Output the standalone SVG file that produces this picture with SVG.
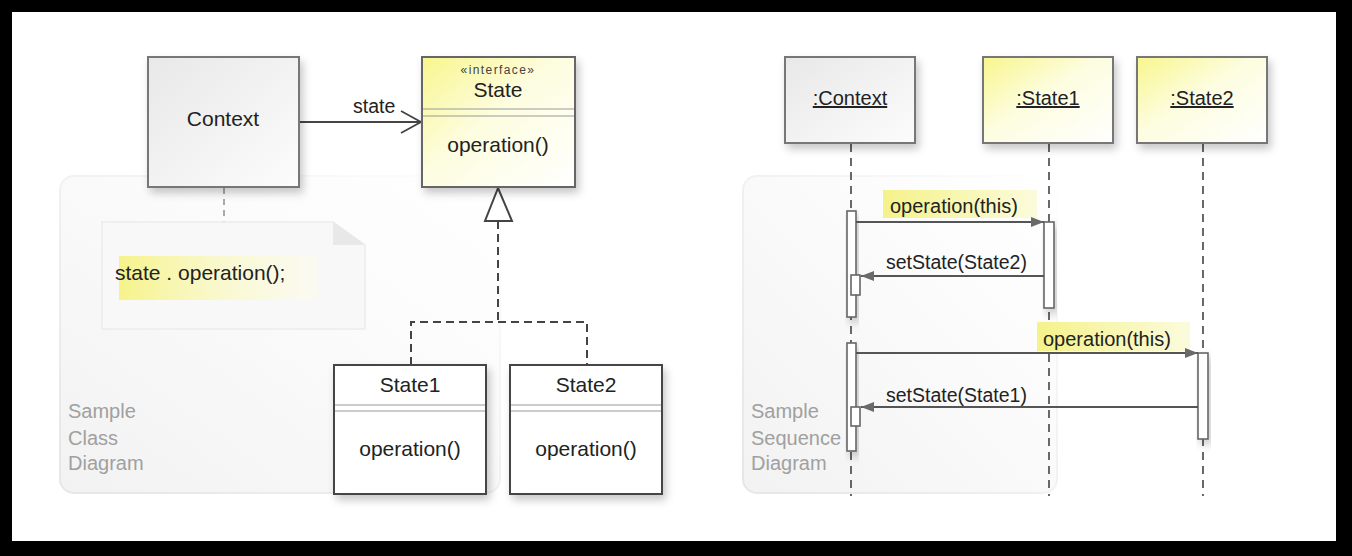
<svg xmlns="http://www.w3.org/2000/svg" width="1352" height="556" viewBox="0 0 1352 556">
<defs>
<style>
text{font-family:"Liberation Sans",Arial,sans-serif;fill:#222}
.box{font-size:21px}
.msg{font-size:20px}
.cap{font-size:20px;fill:#a0a0a0}
.sep{stroke:#999;stroke-width:1;fill:none}
.dash{stroke:#444;stroke-width:2;stroke-dasharray:8 5;fill:none}
.life{stroke:#444;stroke-width:1.6;stroke-dasharray:8 6;fill:none}
.act{fill:#fff;stroke:#666;stroke-width:1.6}
.mline{stroke:#555;stroke-width:1.8;fill:none}
.panel{fill:url(#gPanel);stroke:url(#gPanelStroke);stroke-width:2}
</style>
<linearGradient id="gGrey" x1="0" y1="0" x2="1" y2="1">
<stop offset="0" stop-color="#e8e8e8"/><stop offset="1" stop-color="#fcfcfc"/>
</linearGradient>
<linearGradient id="gYellow" x1="0" y1="0" x2="1" y2="1">
<stop offset="0" stop-color="#f8f68c"/><stop offset="0.45" stop-color="#fdfde0"/><stop offset="1" stop-color="#ffffff"/>
</linearGradient>
<linearGradient id="gHi" x1="0" y1="0" x2="1" y2="0">
<stop offset="0" stop-color="#f6f38a"/><stop offset="1" stop-color="#fdfde8" stop-opacity="0.4"/>
</linearGradient>
<linearGradient id="gHi2" x1="0" y1="0" x2="1" y2="0">
<stop offset="0" stop-color="#f5f28a"/><stop offset="1" stop-color="#fbfbdc"/>
</linearGradient>
<linearGradient id="gPanel" x1="0" y1="1" x2="1" y2="0">
<stop offset="0" stop-color="#f2f2f2"/><stop offset="0.6" stop-color="#fbfbfb"/><stop offset="1" stop-color="#ffffff"/>
</linearGradient>
<linearGradient id="gPanelStroke" x1="0" y1="1" x2="1" y2="0">
<stop offset="0" stop-color="#e6e6e6"/><stop offset="0.6" stop-color="#f3f3f3"/><stop offset="1" stop-color="#ffffff"/>
</linearGradient>
<filter id="sh" x="-20%" y="-20%" width="150%" height="150%">
<feDropShadow dx="3" dy="5" stdDeviation="4" flood-color="#000" flood-opacity="0.22"/>
</filter>
<marker id="filled" markerWidth="14" markerHeight="12" refX="13" refY="6" orient="auto" markerUnits="userSpaceOnUse">
<path d="M0,1 L13,6 L0,11 Z" fill="#6a6a6a"/>
</marker>
</defs>

<rect x="0" y="0" width="1352" height="556" fill="#000"/>
<rect x="12" y="12" width="1324" height="529" fill="#fff"/>

<!-- background panels -->
<g id="panel-class">
<rect class="panel" x="60" y="176" width="440" height="317" rx="14"/>
<text class="cap" x="68" y="418">Sample</text>
<text class="cap" x="68" y="445">Class</text>
<text class="cap" x="68" y="470">Diagram</text>
</g>
<g id="panel-seq">
<rect class="panel" x="743" y="176" width="314" height="317" rx="14"/>
<text class="cap" x="751" y="418">Sample</text>
<text class="cap" x="751" y="445">Sequence</text>
<text class="cap" x="751" y="470">Diagram</text>
</g>

<!-- connectors -->
<g id="connectors">
<line x1="224" y1="188" x2="224" y2="222" stroke="#aaa" stroke-width="2" stroke-dasharray="6 5"/>
<line x1="299" y1="122" x2="421" y2="122" stroke="#444" stroke-width="2"/>
<path d="M401,111 L421,122 L401,133" fill="none" stroke="#444" stroke-width="1.8"/>
<text class="msg" x="353" y="113" style="font-size:19.5px">state</text>
<path class="dash" d="M498,221 V322"/>
<path class="dash" d="M411,365 V322 H587 V365"/>
<path d="M498,188 L485,221 L512,221 Z" fill="#fff" stroke="#444" stroke-width="2"/>
<line class="life" x1="851" y1="144" x2="851" y2="496"/>
<line class="life" x1="1049" y1="144" x2="1049" y2="496"/>
<line class="life" x1="1203" y1="144" x2="1203" y2="496"/>
</g>

<!-- note -->
<g id="note">
<path d="M102,222 H333 L365,245 V329 H102 Z" fill="#f8f8f8" stroke="#ececec" stroke-width="1.5"/>
<path d="M333,222 V245 H365 Z" fill="#e8e8e8"/>
<rect x="119" y="256" width="198" height="44" fill="url(#gHi)"/>
<text class="box" x="115" y="280">state . operation();</text>
</g>

<!-- class nodes -->
<g id="Context">
<rect x="148" y="57" width="151" height="130" fill="url(#gGrey)" stroke="#777" stroke-width="2" filter="url(#sh)"/>
<text class="box" x="223" y="126" text-anchor="middle">Context</text>
</g>
<g id="State">
<rect x="422" y="57" width="153" height="130" fill="url(#gYellow)" stroke="#666" stroke-width="2" filter="url(#sh)"/>
<text x="498" y="74" text-anchor="middle" style="font-size:12px;letter-spacing:1.4px;fill:#444">«interface»</text>
<text class="box" x="498" y="97" text-anchor="middle">State</text>
<line class="sep" x1="423" y1="109" x2="574" y2="109"/>
<line class="sep" x1="423" y1="116" x2="574" y2="116"/>
<text class="box" x="498" y="152" text-anchor="middle">operation()</text>
</g>
<g id="State1">
<rect x="334" y="365" width="152" height="129" fill="#fff" stroke="#444" stroke-width="2" filter="url(#sh)"/>
<text class="box" x="410" y="392" text-anchor="middle">State1</text>
<line class="sep" x1="335" y1="405" x2="485" y2="405"/>
<line class="sep" x1="335" y1="411" x2="485" y2="411"/>
<text class="box" x="410" y="456" text-anchor="middle">operation()</text>
</g>
<g id="State2">
<rect x="510" y="365" width="152" height="129" fill="#fff" stroke="#444" stroke-width="2" filter="url(#sh)"/>
<text class="box" x="586" y="392" text-anchor="middle">State2</text>
<line class="sep" x1="511" y1="405" x2="661" y2="405"/>
<line class="sep" x1="511" y1="411" x2="661" y2="411"/>
<text class="box" x="586" y="456" text-anchor="middle">operation()</text>
</g>

<!-- sequence lifeline heads -->
<g id="obj-Context">
<rect x="785" y="57" width="130" height="86" fill="url(#gGrey)" stroke="#777" stroke-width="2" filter="url(#sh)"/>
<text class="msg" x="850" y="105" text-anchor="middle" text-decoration="underline">:Context</text>
</g>
<g id="obj-State1">
<rect x="983" y="57" width="130" height="86" fill="url(#gYellow)" stroke="#777" stroke-width="2" filter="url(#sh)"/>
<text class="msg" x="1048" y="105" text-anchor="middle" text-decoration="underline">:State1</text>
</g>
<g id="obj-State2">
<rect x="1137" y="57" width="130" height="86" fill="url(#gYellow)" stroke="#777" stroke-width="2" filter="url(#sh)"/>
<text class="msg" x="1202" y="105" text-anchor="middle" text-decoration="underline">:State2</text>
</g>

<!-- activations -->
<g id="activations">
<rect class="act" x="847" y="211" width="9" height="106" filter="url(#sh)"/>
<rect class="act" x="851" y="275" width="9" height="20"/>
<rect class="act" x="1044" y="222" width="10" height="86" filter="url(#sh)"/>
<rect class="act" x="847" y="343" width="9" height="108" filter="url(#sh)"/>
<rect class="act" x="851" y="407" width="9" height="19"/>
<rect class="act" x="1198" y="353" width="10" height="86" filter="url(#sh)"/>
</g>

<!-- messages -->
<g id="messages">
<rect x="883" y="190" width="154" height="28" fill="url(#gHi2)"/>
<line class="mline" x1="856" y1="222" x2="1044" y2="222" marker-end="url(#filled)"/>
<text class="msg" x="890" y="213">operation(this)</text>

<line class="mline" x1="1044" y1="276" x2="861" y2="276" marker-end="url(#filled)"/>
<text class="msg" x="886" y="269" style="font-size:19.5px">setState(State2)</text>

<rect x="1037" y="322" width="153" height="29" fill="url(#gHi2)"/>
<line class="mline" x1="856" y1="353" x2="1198" y2="353" marker-end="url(#filled)"/>
<text class="msg" x="1043" y="346">operation(this)</text>

<line class="mline" x1="1198" y1="407" x2="861" y2="407" marker-end="url(#filled)"/>
<text class="msg" x="886" y="402" style="font-size:19.5px">setState(State1)</text>
</g>
</svg>
